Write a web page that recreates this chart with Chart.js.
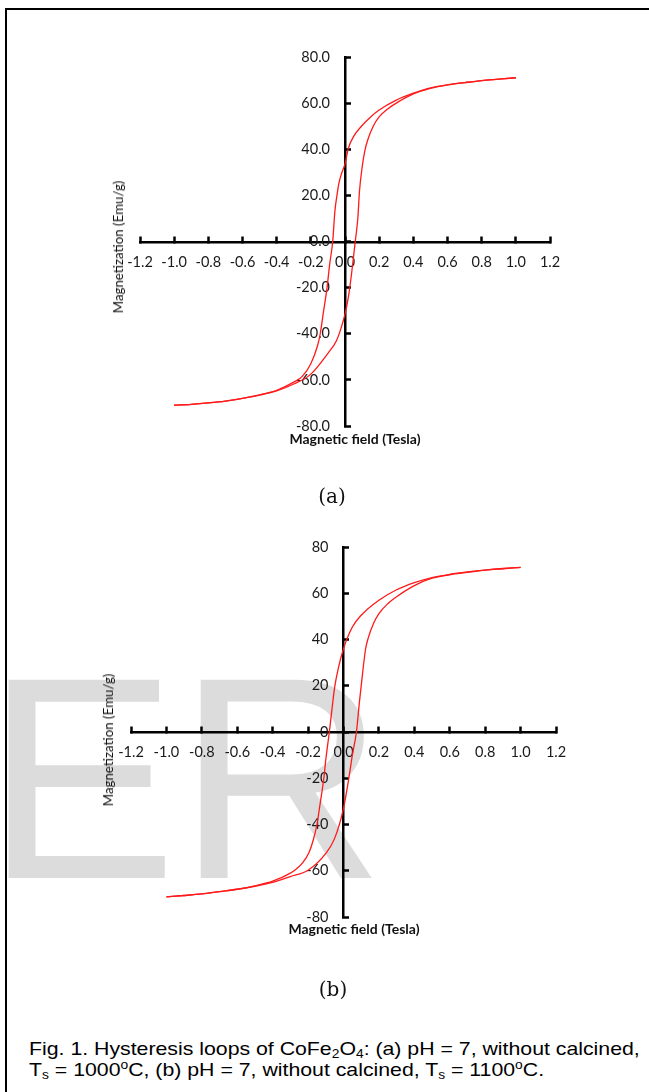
<!DOCTYPE html>
<html>
<head>
<meta charset="utf-8">
<script src="https://cdn.jsdelivr.net/npm/chart.js@4.4.0/dist/chart.umd.min.js"></script>
<style>
    body { margin: 0; width: 649px; height: 1092px; position: relative; overflow: hidden; background: #fff; }
    .frame { position: absolute; left: 5px; top: 8px; right: -10px; bottom: -10px; border-top: 2px solid #000; border-left: 2.5px solid #000; }
    .watermark { position: absolute; left: -15px; top: 634px; font-family: "Liberation Sans", Arial, sans-serif; font-size: 288px; line-height: 288px; color: #dcdcdc; white-space: nowrap; }
    canvas { position: absolute; left: 0; }
    .xtitle { position: absolute; font-family: Lato, sans-serif; font-weight: bold; font-size: 14px; color: #111; transform: translate(-50%, -50%); white-space: nowrap; }
    .ytitle { position: absolute; font-family: Lato, sans-serif; font-size: 13.3px; color: #111; transform: translate(-50%, -50%) rotate(-90deg); white-space: nowrap; }
    .panel { position: absolute; font-family: "DejaVu Serif", "Liberation Serif", serif; font-size: 20px; color: #111; transform: translate(-50%, -50%); }
    .caption { position: absolute; left: 29px; top: 1038px; font-family: "Liberation Sans", Arial, sans-serif; font-size: 18.5px; line-height: 21px; color: #000; white-space: nowrap; transform: scaleX(1.15); transform-origin: left top; }
    .caption sub { font-size: 12px; vertical-align: -3px; line-height: 0; }
    .caption sup { font-size: 12px; vertical-align: 7px; line-height: 0; }
</style>
</head>
<body>
<div class="watermark">ER</div>
<div class="frame"></div>

<canvas id="chart-a" width="649" height="470" style="top:0px"></canvas>
<canvas id="chart-b" width="649" height="470" style="top:480px"></canvas>

<div class="ytitle" style="left:118px; top:247px;">Magnetization (Emu/g)</div>
<div class="xtitle" style="left:355px; top:438px;">Magnetic field (Tesla)</div>
<div class="panel" style="left:332px; top:496px;">(a)</div>

<div class="ytitle" style="left:108px; top:740px;">Magnetization (Emu/g)</div>
<div class="xtitle" style="left:354px; top:928px;">Magnetic field (Tesla)</div>
<div class="panel" style="left:333px; top:989px;">(b)</div>

<div class="caption">Fig. 1. Hysteresis loops of CoFe<sub>2</sub>O<sub>4</sub>: (a) pH = 7, without calcined,<br>T<sub>s</sub> = 1000<sup>o</sup>C, (b) pH = 7, without calcined, T<sub>s</sub> = 1100<sup>o</sup>C.</div>

<script>
// axis ranges
const fieldMin = -1.2, fieldMax = 1.2, fieldStep = 0.2;
const magMin = -80, magMax = 80, magStep = 20;

// (a) pH 7, Ts = 1000 C - branch coming down from +1 T
const fieldDownA = [1.0, 0.9, 0.8, 0.7, 0.6, 0.5, 0.4, 0.3, 0.2, 0.15, 0.1, 0.05, 0.02, 0.0, -0.02, -0.035, -0.047, -0.059, -0.072, -0.09, -0.105, -0.125, -0.145, -0.16, -0.2, -0.25, -0.3, -0.4, -0.5, -0.6, -0.7, -0.8, -0.9, -1.0];
const magDownA = [71.0, 70.4, 69.8, 68.9, 67.9, 66.6, 64.3, 61.3, 57.0, 54.0, 50.3, 45.5, 40.5, 33.6, 29.5, 25.5, 20.0, 13.3, 0, -10, -20, -30, -40, -45, -53, -58.5, -61, -64.5, -66.5, -68, -69.2, -70, -70.6, -71];
// (a) branch going up from -1 T
const fieldUpA = [-1.0, -0.9, -0.8, -0.7, -0.6, -0.5, -0.4, -0.3, -0.2, -0.1, -0.05, -0.025, 0.0, 0.02, 0.04, 0.06, 0.075, 0.085, 0.1, 0.115, 0.133, 0.165, 0.2, 0.25, 0.3, 0.4, 0.5, 0.6, 0.7, 0.8, 0.9, 1.0];
const magUpA = [-71, -70.6, -70, -69.2, -68, -66.6, -64.8, -61.8, -57.5, -48.5, -43, -38, -31.5, -24, -13, 0, 10, 22, 32, 39, 44, 50, 54, 57.5, 60, 64, 66.4, 67.9, 68.9, 69.8, 70.4, 71];

// (b) pH 7, Ts = 1100 C
const fieldDownB = [1.0, 0.9, 0.8, 0.7, 0.6, 0.5, 0.4, 0.3, 0.2, 0.1, 0.05, 0.0, -0.03, -0.05, -0.064, -0.08, -0.1, -0.111, -0.13, -0.15, -0.17, -0.194, -0.23, -0.27, -0.3, -0.4, -0.5, -0.6, -0.7, -0.8, -0.9, -1.0];
const magDownB = [71.2, 70.6, 70, 69.2, 68.2, 66.8, 64.6, 61.5, 57, 50.5, 45.4, 36, 27.3, 19.3, 10.6, 0, -12, -20, -30, -40, -46.5, -52, -56.5, -59.5, -61, -64.5, -66.5, -68, -69, -70, -70.7, -71.3];
const fieldUpB = [-1.0, -0.9, -0.8, -0.7, -0.6, -0.5, -0.4, -0.3, -0.2, -0.1, -0.05, 0.0, 0.03, 0.05, 0.073, 0.09, 0.11, 0.125, 0.139, 0.17, 0.2, 0.25, 0.3, 0.4, 0.5, 0.6, 0.7, 0.8, 0.9, 1.0];
const magUpB = [-71.3, -70.7, -70, -69, -68, -66.7, -65, -62.5, -59.8, -52.5, -46, -33, -20, -10, 0, 13, 27, 36, 40.5, 47, 51.2, 55.5, 58.5, 63.3, 66.5, 68, 69, 70, 70.7, 71.2];

function toPoints(xs, ys) {
    return xs.map((x, i) => ({ x: x, y: ys[i] }));
}

function branch(xs, ys) {
    return {
        data: toPoints(xs, ys),
        showLine: true,
        borderColor: '#ff1a1a',
        borderWidth: 1.3,
        pointRadius: 0,
        cubicInterpolationMode: 'monotone'
    };
}

function fmt(v, digits) {
    if (Math.abs(v) < 1e-9) v = 0;
    return Number(v).toFixed(digits);
}

function axisStyle() {
    return {
        border: { display: true, color: '#000', width: 2.5 },
        grid: { display: true, drawOnChartArea: false, drawTicks: true, tickLength: -7, tickWidth: 2.5, tickColor: '#000', color: '#000' }
    };
}

function makeChart(id, downX, downY, upX, upY, pad, yDigits) {
    const ctx = document.getElementById(id).getContext('2d');
    return new Chart(ctx, {
        type: 'scatter',
        data: {
            datasets: [branch(downX, downY), branch(upX, upY)]
        },
        options: {
            responsive: false,
            animation: false,
            events: [],
            layout: { padding: pad },
            plugins: { legend: { display: false }, tooltip: { enabled: false } },
            scales: {
                x: Object.assign(axisStyle(), {
                    type: 'linear',
                    position: 'center',
                    min: fieldMin,
                    max: fieldMax,
                    afterFit: s => { s.height = 0; },
                    ticks: {
                        stepSize: fieldStep,
                        padding: 19,
                        maxRotation: 0,
                        autoSkip: false,
                        color: '#1a1a1a',
                        font: { family: 'Lato', size: 14.5 },
                        callback: v => fmt(v, 1)
                    }
                }),
                y: Object.assign(axisStyle(), {
                    type: 'linear',
                    position: 'center',
                    min: magMin,
                    max: magMax,
                    afterFit: s => { s.width = 0; },
                    ticks: {
                        stepSize: magStep,
                        padding: 22,
                        autoSkip: false,
                        color: '#1a1a1a',
                        font: { family: 'Lato', size: 14.5 },
                        callback: v => fmt(v, yDigits)
                    }
                })
            }
        }
    });
}

makeChart('chart-a', fieldDownA, magDownA, fieldUpA, magUpA, { left: 140, right: 99, top: 57, bottom: 44 }, 1);
makeChart('chart-b', fieldDownB, magDownB, fieldUpB, magUpB, { left: 131, right: 93, top: 67, bottom: 33 }, 0);
</script>
</body>
</html>
